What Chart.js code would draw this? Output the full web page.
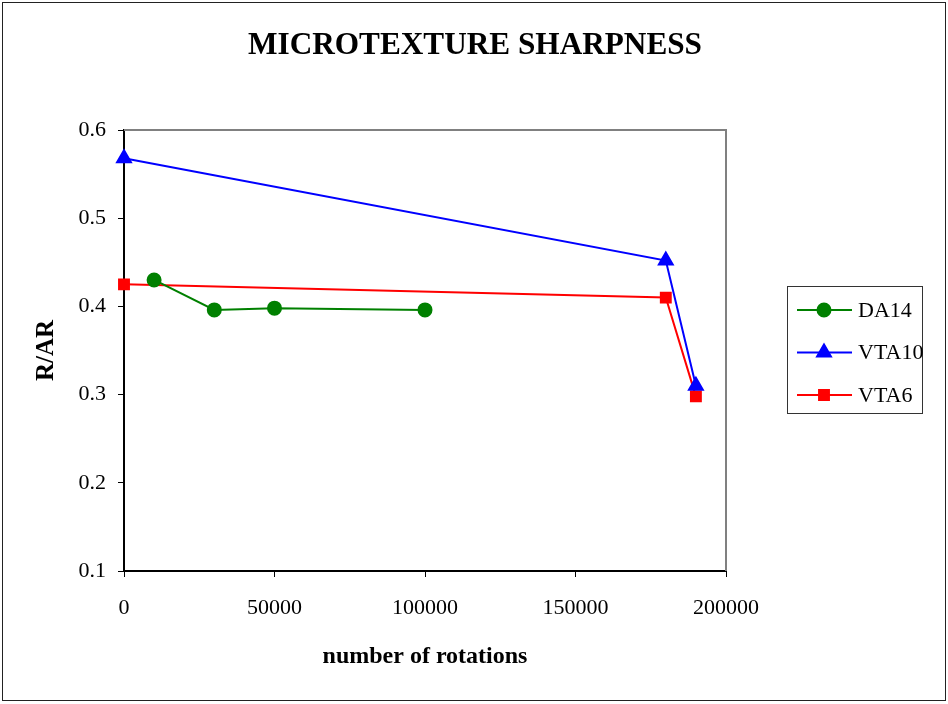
<!DOCTYPE html>
<html>
<head>
<meta charset="utf-8">
<script src="https://cdn.jsdelivr.net/npm/chart.js@4"></script>
<style>
  html, body { margin: 0; padding: 0; background: #fff; }
  #wrap { width: 948px; height: 704px; position: relative; }
</style>
</head>
<body>
<div id="wrap"><canvas id="chart" width="948" height="704"></canvas></div>
<script>
// Data
const seriesNames = ['DA14', 'VTA10', 'VTA6'];
const da14Rotations = [10000, 30000, 50000, 100000];
const da14Values = [0.430, 0.396, 0.398, 0.396];
const vta10Rotations = [0, 180000, 190000];
const vta10Values = [0.568, 0.452, 0.310];
const vta6Rotations = [0, 180000, 190000];
const vta6Values = [0.425, 0.410, 0.298];
const xTicks = [0, 50000, 100000, 150000, 200000];
const yTicks = [0.1, 0.2, 0.3, 0.4, 0.5, 0.6];
const chartTitle = 'MICROTEXTURE SHARPNESS';

const SERIF = '"Liberation Serif", "Times New Roman", serif';

function toPoints(xs, ys) {
    return xs.map((x, i) => ({ x: x, y: ys[i] }));
}

// frame, title, gray plot border and boxed legend
const frames = {
    id: 'frames',
    beforeDatasetsDraw(chart) {
        const c = chart.ctx, a = chart.chartArea;
        c.save();
        c.strokeStyle = '#808080';
        c.lineWidth = 2;
        c.beginPath();
        c.moveTo(a.left, a.top);
        c.lineTo(a.right, a.top);
        c.lineTo(a.right, a.bottom);
        c.stroke();
        c.restore();
    },
    afterDraw(chart) {
        const c = chart.ctx;
        c.save();
        c.strokeStyle = '#222';
        c.lineWidth = 1;
        c.strokeRect(2.5, 2.5, 943, 698);

        // title, squeezed a little to match the reference width
        c.font = 'bold 32px ' + SERIF;
        c.fillStyle = '#000';
        c.textAlign = 'center';
        c.textBaseline = 'middle';
        const w = c.measureText(chartTitle).width;
        c.save();
        c.translate(475, 46);
        c.scale(454 / w, 1);
        c.fillText(chartTitle, 0, 0);
        c.restore();

        c.strokeStyle = '#333';
        c.lineWidth = 1;
        c.strokeRect(787.5, 286.5, 135, 127);
        c.font = '22px ' + SERIF;
        c.textAlign = 'left';
        chart.data.datasets.forEach((ds, i) => {
            const y = 310 + i * 42.5;
            c.strokeStyle = ds.borderColor;
            c.lineWidth = 2;
            c.beginPath();
            c.moveTo(797, y);
            c.lineTo(852, y);
            c.stroke();
            c.fillStyle = ds.backgroundColor;
            Chart.helpers.drawPoint(c, {
                pointStyle: ds.pointStyle,
                radius: ds.pointRadius,
                borderWidth: 1
            }, 824, y);
            c.fillStyle = '#000';
            c.fillText(ds.label, 858, y + 1);
        });
        c.restore();
    }
};

function makeDataset(i, xs, ys, color, style, r) {
    return {
        label: seriesNames[i],
        data: toPoints(xs, ys),
        borderColor: color,
        backgroundColor: color,
        pointBackgroundColor: color,
        pointBorderColor: color,
        borderWidth: 2,
        pointStyle: style,
        pointRadius: r,
        pointHoverRadius: r,
        tension: 0,
        clip: false
    };
}

new Chart(document.getElementById('chart'), {
    type: 'line',
    data: {
        datasets: [
            makeDataset(0, da14Rotations, da14Values, '#008000', 'circle', 6.5),
            makeDataset(1, vta10Rotations, vta10Values, '#0000FF', 'triangle', 8),
            makeDataset(2, vta6Rotations, vta6Values, '#FF0000', 'rect', 7)
        ]
    },
    options: {
        responsive: false,
        animation: false,
        layout: { padding: { top: 130, right: 222, bottom: 0, left: 0 } },
        plugins: {
            legend: { display: false },
            tooltip: { enabled: false },
            title: { display: false }
        },
        scales: {
            x: {
                type: 'linear',
                min: 0,
                max: 200000,
                afterBuildTicks(scale) {
                    scale.ticks = xTicks.map(v => ({ value: v }));
                },
                afterFit(scale) { scale.height = 133; },
                grid: { display: true, drawOnChartArea: false, tickLength: 6, color: '#000', lineWidth: 1 },
                border: { display: true, color: '#000', width: 2 },
                ticks: {
                    color: '#000',
                    padding: 18,
                    maxRotation: 0,
                    font: { family: SERIF, size: 22 },
                    callback: v => String(v)
                },
                title: {
                    display: true,
                    text: 'number of rotations',
                    color: '#000',
                    font: { family: SERIF, size: 24, weight: 'bold' },
                    padding: { top: 0, bottom: 33 }
                }
            },
            y: {
                type: 'linear',
                min: 0.1,
                max: 0.6,
                afterBuildTicks(scale) {
                    scale.ticks = yTicks.map(v => ({ value: v }));
                },
                afterFit(scale) { scale.width = 124; },
                grid: { display: true, drawOnChartArea: false, tickLength: 6, color: '#000', lineWidth: 1 },
                border: { display: true, color: '#000', width: 2 },
                ticks: {
                    color: '#000',
                    padding: 12,
                    font: { family: SERIF, size: 22 },
                    callback: v => v.toFixed(1)
                },
                title: {
                    display: true,
                    text: 'R/AR',
                    color: '#000',
                    font: { family: SERIF, size: 25, weight: 'bold' },
                    padding: { top: 32, bottom: 0 }
                }
            }
        }
    },
    plugins: [frames]
});
</script>
</body>
</html>
